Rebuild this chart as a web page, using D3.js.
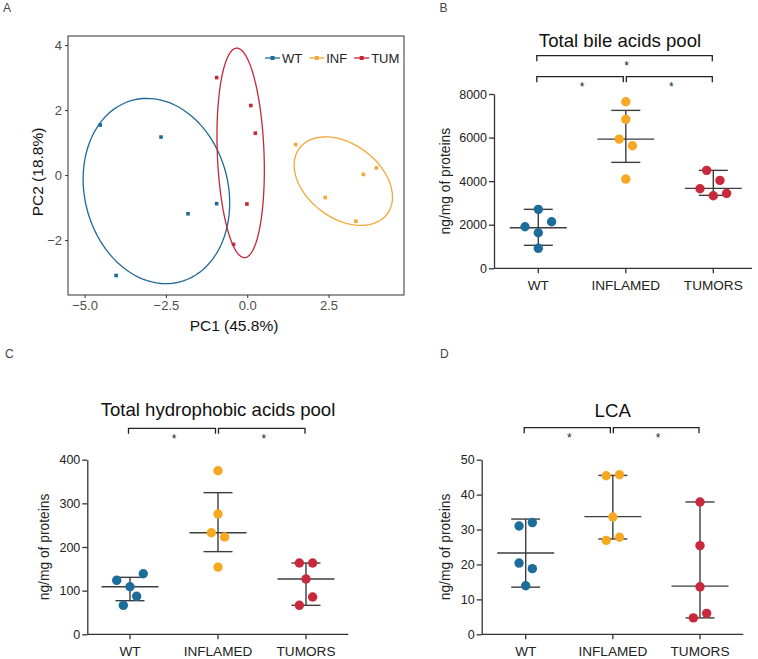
<!DOCTYPE html>
<html><head><meta charset="utf-8">
<script src="https://cdn.jsdelivr.net/npm/d3@7"></script>
<style>
body{margin:0;background:#fff}
svg{display:block}
text{font-family:"Liberation Sans",Arial,Helvetica,sans-serif}
</style>
</head><body><svg id="c" width="758" height="659"></svg>
<script>
// ================= DATA =================
// Panel A : PCA scores
const pcaGroups = ["WT", "INF", "TUM"];
const pc1WT  = [-4.52, -2.65, -1.82, -0.94, -4.03];
const pc2WT  = [ 1.54,  1.17, -1.19, -0.88, -3.09];
const pc1INF = [ 1.49,  3.57,  3.97,  2.40,  3.34];
const pc2INF = [ 0.94,  0.02,  0.22, -0.69, -1.42];
const pc1TUM = [-0.94,  0.11,  0.25, -0.01, -0.42];
const pc2TUM = [ 3.00,  2.14,  1.29, -0.89, -2.13];
const pcaXTicks = [-5, -2.5, 0, 2.5];
const pcaYTicks = [-2, 0, 2, 4];
const pcaXLabel = "PC1 (45.8%)";
const pcaYLabel = "PC2 (18.8%)";
const ellipseProb = 0.68;

// Dot plots
const categories = ["WT", "INFLAMED", "TUMORS"];
const yLabel = "ng/mg of proteins";

// B : Total bile acids pool
const bileWT  = [2706, 1908, 1633, 2138, 917];
const bileINF = [7642, 6835, 5931, 5624, 4096];
const bileTUM = [4495, 4037, 3651, 3330, 3440];
const bileCenter = [1862, 5931, 3670];
const bileLow    = [1055, 4862, 3349];
const bileHigh   = [2706, 7248, 4495];
const bileTicks  = [0, 2000, 4000, 6000, 8000];

// C : Total hydrophobic acids pool
const hydroWT  = [123.7, 109.0, 138.8, 66.4, 87.0];
const hydroINF = [374.6, 275.5, 232.7, 222.8, 154.0];
const hydroTUM = [163.3, 163.3, 126.6, 66.4, 85.4];
const hydroCenter = [109.0, 232.7, 126.6];
const hydroLow    = [77.0, 189.4, 66.4];
const hydroHigh   = [130.5, 324.5, 163.3];
const hydroTicks  = [0, 100, 200, 300, 400];

// D : LCA
const lcaWT  = [31.0, 32.0, 20.4, 18.8, 13.9];
const lcaINF = [45.4, 45.7, 33.6, 26.9, 27.8];
const lcaTUM = [37.9, 25.4, 13.6, 4.7, 6.0];
const lcaCenter = [23.3, 33.7, 13.8];
const lcaLow    = [13.5, 27.3, 4.7];
const lcaHigh   = [33.0, 45.5, 37.9];
const lcaTicks  = [0, 10, 20, 30, 40, 50];

// significance brackets: [from, to, level]
const bileSig  = [["WT","INFLAMED",0], ["INFLAMED","TUMORS",0], ["WT","TUMORS",1]];
const hydroSig = [["WT","INFLAMED",0], ["INFLAMED","TUMORS",0]];
const lcaSig   = [["WT","INFLAMED",0], ["INFLAMED","TUMORS",0]];

// ================= STYLE =================
const colA = {WT:"#1f6b97", INF:"#f2a737", TUM:"#c4283a"};
const colDots = ["#1c6d9a", "#f6a823", "#c9293b"];
const axisCol = "#333";
const svg = d3.select("#c");

// panel letters
[["A",3,11.7],["B",439.5,11.7],["C",5,358.3],["D",440,358.3]].forEach(([t,x,y])=>{
  svg.append("text").attr("x",x).attr("y",y).attr("font-size",12).attr("fill","#444").text(t);
});

// ================= PANEL A =================
(function(){
  const g = svg.append("g");
  const L=68, R=404, T=36, B=295;
  const x = d3.scaleLinear().domain([-5.51, 4.82]).range([L, R]);
  const y = d3.scaleLinear().domain([-3.69, 4.28]).range([B, T]);
  const fmt = d3.format(".1f");

  const xa = g.append("g").attr("transform",`translate(0,${B})`)
    .call(d3.axisBottom(x).tickValues(pcaXTicks).tickFormat(fmt).tickSize(3).tickPadding(3));
  const ya = g.append("g").attr("transform",`translate(${L},0)`)
    .call(d3.axisLeft(y).tickValues(pcaYTicks).tickFormat(d3.format("d")).tickSize(3).tickPadding(3));
  [xa,ya].forEach(a=>{
    a.select(".domain").remove();
    a.selectAll("line").attr("stroke",axisCol);
    a.selectAll("text").attr("font-size",13).attr("fill","#4d4d4d").attr("font-family","Liberation Sans, Arial");
  });

  g.append("rect").attr("x",L).attr("y",T).attr("width",R-L).attr("height",B-T)
    .attr("fill","none").attr("stroke",axisCol).attr("stroke-width",1);

  const groups = [
    {k:"WT",  xs:pc1WT,  ys:pc2WT},
    {k:"INF", xs:pc1INF, ys:pc2INF},
    {k:"TUM", xs:pc1TUM, ys:pc2TUM}
  ];
  const ed = Math.sqrt(-2*Math.log(1-ellipseProb)); // sqrt(qchisq(p,2))
  const line = d3.line().x(d=>x(d[0])).y(d=>y(d[1]));
  g.append("clipPath").attr("id","clipA").append("rect")
    .attr("x",L).attr("y",T).attr("width",R-L).attr("height",B-T);
  const inner = g.append("g").attr("clip-path","url(#clipA)");

  groups.forEach(gr=>{
    const n = gr.xs.length;
    const mx = d3.mean(gr.xs), my = d3.mean(gr.ys);
    const sxx = d3.sum(gr.xs,v=>(v-mx)**2)/(n-1);
    const syy = d3.sum(gr.ys,v=>(v-my)**2)/(n-1);
    const sxy = d3.sum(gr.xs.map((v,i)=>(v-mx)*(gr.ys[i]-my)))/(n-1);
    const a = Math.sqrt(sxx), b = sxy/a, c = Math.sqrt(syy - b*b);
    const pts = d3.range(0,101).map(i=>{
      const th = -Math.PI + 2*Math.PI*i/100;
      const cx = Math.cos(th), sy = Math.sin(th);
      return [mx + ed*(a*cx), my + ed*(b*cx + c*sy)];
    });
    inner.append("path").attr("d",line(pts)).attr("fill","none")
      .attr("stroke",colA[gr.k]).attr("stroke-width",1.3);
    gr.xs.forEach((v,i)=>{
      inner.append("rect").attr("x",x(v)-1.8).attr("y",y(gr.ys[i])-1.8)
        .attr("width",3.6).attr("height",3.6).attr("fill",colA[gr.k]);
    });
  });

  // legend
  let cx = 265; const ly = 58;
  pcaGroups.forEach(k=>{
    g.append("line").attr("x1",cx).attr("x2",cx+15).attr("y1",ly).attr("y2",ly)
      .attr("stroke",colA[k]).attr("stroke-width",1.3);
    g.append("rect").attr("x",cx+7.5-2).attr("y",ly-2).attr("width",4).attr("height",4).attr("fill",colA[k]);
    const t = g.append("text").attr("x",cx+17).attr("y",ly).attr("dy","0.36em")
      .attr("font-size",13).attr("fill","#222").text(k);
    cx += 17 + t.node().getComputedTextLength() + 7;
  });

  g.append("text").attr("x",234).attr("y",326).attr("dy","0.35em").attr("text-anchor","middle")
    .attr("font-size",15.5).attr("fill","#111").text(pcaXLabel);
  g.append("text").attr("transform","translate(38,172) rotate(-90)").attr("dy","0.35em")
    .attr("text-anchor","middle").attr("font-size",15.5).attr("fill","#111").text(pcaYLabel);
})();

// ================= DOT PANELS =================
// rows built bottom-up: points within `thr` px of a row's first point share the row,
// and are spread side by side (in data order), centred on the category.
function swarmOffsets(vals, y, spacing, thr){
  const idx = vals.map((v,i)=>i).sort((a,b)=>y(vals[b])-y(vals[a]));
  const off = vals.map(()=>0);
  let row = [], start = null;
  const flush = ()=>{
    row.sort((a,b)=>a-b);
    row.forEach((k,j)=>{ off[k] = (j-(row.length-1)/2)*spacing; });
  };
  idx.forEach(k=>{
    const py = y(vals[k]);
    if(start===null || start-py>thr){ if(row.length) flush(); row=[k]; start=py; }
    else row.push(k);
  });
  flush();
  return off;
}

function dotPanel(cfg){
  const g = svg.append("g");
  const y = d3.scaleLinear().domain([0, d3.max(cfg.ticks)]).range([cfg.y0, cfg.y1]);
  const x = d3.scalePoint().domain(categories).range(cfg.catRange);

  // y axis
  const ya = g.append("g").attr("transform",`translate(${cfg.ax},0)`)
    .call(d3.axisLeft(y).tickValues(cfg.ticks).tickFormat(d3.format("d")).tickSize(5).tickSizeOuter(0).tickPadding(2));
  ya.select(".domain").attr("stroke",axisCol).attr("stroke-width",1.3);
  ya.selectAll(".tick line").attr("stroke",axisCol).attr("stroke-width",1.3);
  ya.selectAll("text").attr("font-size",12.5).attr("fill","#222").attr("font-family","Liberation Sans, Arial");

  // x axis
  g.append("line").attr("x1",cfg.ax).attr("x2",cfg.axEnd).attr("y1",cfg.y0).attr("y2",cfg.y0)
    .attr("stroke",axisCol).attr("stroke-width",1.3);
  categories.forEach(c=>{
    g.append("line").attr("x1",x(c)).attr("x2",x(c)).attr("y1",cfg.y0).attr("y2",cfg.y0+5)
      .attr("stroke",axisCol).attr("stroke-width",1.3);
    g.append("text").attr("x",x(c)).attr("y",cfg.y0+17.2).attr("dy","0.35em").attr("text-anchor","middle")
      .attr("font-size",13.6).attr("fill","#222").text(c);
  });

  // y label
  g.append("text").attr("transform",`translate(${cfg.ylx},${(cfg.y0+cfg.y1)/2}) rotate(-90)`)
    .attr("dy","0.35em").attr("text-anchor","middle").attr("font-size",13.8).attr("fill","#222").text(yLabel);

  // title
  g.append("text").attr("x",cfg.titleX).attr("y",cfg.titleY).attr("dy","0.35em").attr("text-anchor","middle")
    .attr("font-size",18.6).attr("fill","#111").text(cfg.title);

  // brackets
  const last = categories.length-1;
  cfg.sig.forEach(([c1,c2,lvl])=>{
    const i1 = categories.indexOf(c1), i2 = categories.indexOf(c2);
    const xl = x(c1) + (i1>0 ? 0.5 : -1.5);
    const xr = x(c2) - (i2<last ? 2.5 : 1);
    const by = cfg.bracketY[lvl];
    g.append("path").attr("d",`M${xl},${by+5.5}V${by}H${xr}V${by+5.5}`)
      .attr("fill","none").attr("stroke","#222").attr("stroke-width",1.3);
    g.append("text").attr("x",(xl+xr)/2+2).attr("y",by+7.5+6.9).attr("text-anchor","middle")
      .attr("font-size",12).attr("fill","#222").text("*");
  });

  // error bars (center line + whiskers)
  categories.forEach((c,i)=>{
    const cx = x(c);
    const ln = (x1,x2,y1,y2)=>g.append("line").attr("x1",x1).attr("x2",x2).attr("y1",y1).attr("y2",y2)
      .attr("stroke","#3d3d3d").attr("stroke-width",1.4);
    ln(cx,cx,y(cfg.low[i]),y(cfg.high[i]));
    ln(cx-14.5,cx+14.5,y(cfg.low[i]),y(cfg.low[i]));
    ln(cx-14.5,cx+14.5,y(cfg.high[i]),y(cfg.high[i]));
    ln(cx-28.5,cx+28.5,y(cfg.center[i]),y(cfg.center[i]));
  });

  // dots
  cfg.values.forEach((vals,i)=>{
    const off = swarmOffsets(vals, y, 13.3, 13.2);
    vals.forEach((v,j)=>{
      g.append("circle").attr("cx",x(categories[i])+off[j]).attr("cy",y(v)).attr("r",4.7)
        .attr("fill",colDots[i]);
    });
  });
}

dotPanel({title:"Total bile acids pool", values:[bileWT,bileINF,bileTUM],
  center:bileCenter, low:bileLow, high:bileHigh, ticks:bileTicks, sig:bileSig,
  y0:268.3, y1:94, ax:494, axEnd:752, catRange:[538.3,713.3], ylx:445,
  titleX:620, titleY:40.7, bracketY:[76.7,55.7]});

dotPanel({title:"Total hydrophobic acids pool", values:[hydroWT,hydroINF,hydroTUM],
  center:hydroCenter, low:hydroLow, high:hydroHigh, ticks:hydroTicks, sig:hydroSig,
  y0:634.3, y1:459.7, ax:87.3, axEnd:348.3, catRange:[130,306], ylx:44,
  titleX:218, titleY:409, bracketY:[428.3]});

dotPanel({title:"LCA", values:[lcaWT,lcaINF,lcaTUM],
  center:lcaCenter, low:lcaLow, high:lcaHigh, ticks:lcaTicks, sig:lcaSig,
  y0:634.3, y1:459.7, ax:481.7, axEnd:743.3, catRange:[525.7,700], ylx:445,
  titleX:612.7, titleY:410, bracketY:[427.7]});
</script>
</body></html>
